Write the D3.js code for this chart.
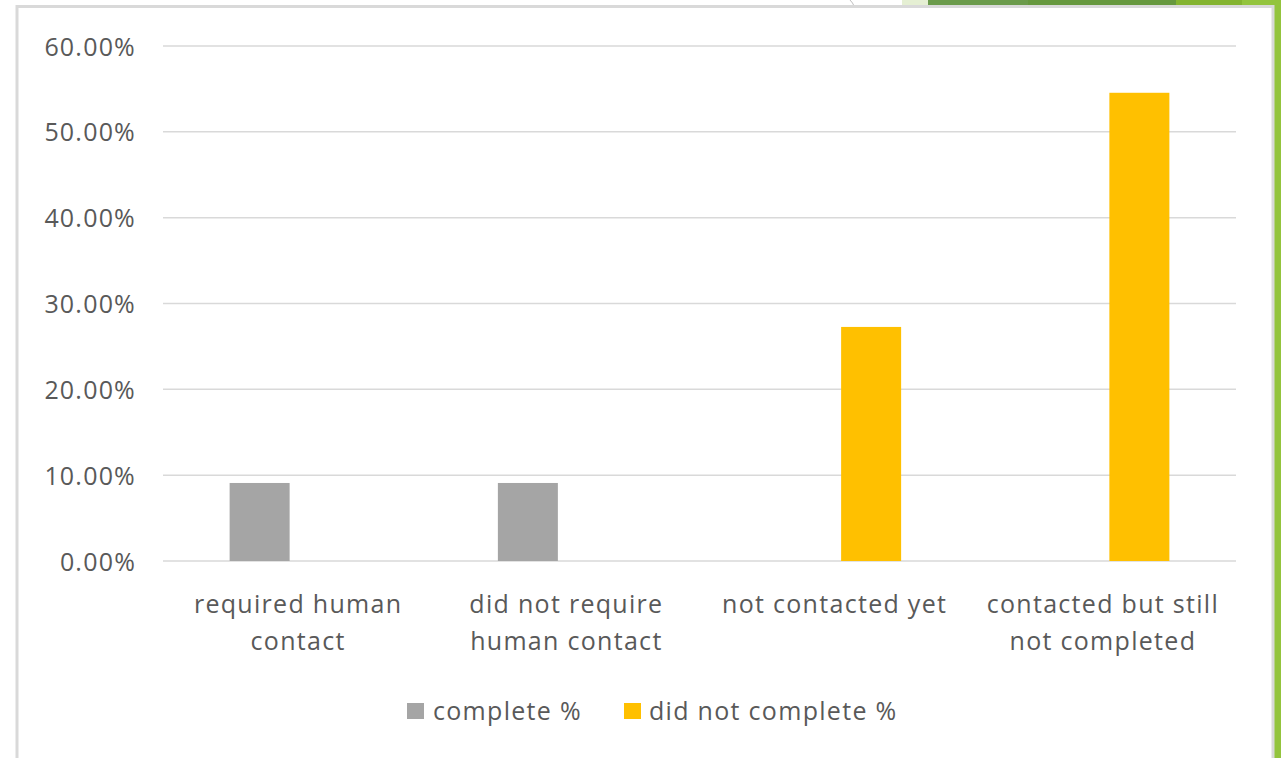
<!DOCTYPE html>
<html>
<head>
<meta charset="utf-8">
<script src="https://cdn.jsdelivr.net/npm/d3@7"></script>
<style>
  body { margin: 0; background: #fff; }
  svg { display: block; font-family: "Open Sans", sans-serif; }
</style>
</head>
<body>
<div id="chart"></div>
<script>
// chart data
var categories = [
  ["required human", "contact"],
  ["did not require", "human contact"],
  ["not contacted yet"],
  ["contacted but still", "not completed"]
];
var seriesNames = ["complete %", "did not complete %"];
var completePct = [0.0909, 0.0909, 0, 0];
var notCompletePct = [0, 0, 0.2727, 0.5455];
var yTicks = [0, 0.1, 0.2, 0.3, 0.4, 0.5, 0.6];
var colors = ["#a5a5a5", "#ffc000"];

(function() {
  var W = 1281, H = 758;
  var svg = d3.select("#chart").append("svg")
      .attr("width", W)
      .attr("height", H);

  // bits of the slide behind the chart, top right
  var strip = [
    [902, 928, "#e5efd3"],
    [928, 1028, "#6b9b4b"],
    [1028, 1176, "#66983e"],
    [1176, 1242, "#84b430"],
    [1242, 1281, "#93c43d"]
  ];
  svg.selectAll("rect.strip").data(strip).enter().append("rect")
      .attr("class", "strip")
      .attr("x", d => d[0]).attr("y", 0)
      .attr("width", d => d[1] - d[0]).attr("height", 8)
      .attr("fill", d => d[2]);
  svg.append("rect")
      .attr("x", 1274).attr("y", 0)
      .attr("width", 7).attr("height", H)
      .attr("fill", "#93c43d");
  svg.append("path")
      .attr("d", "M850,0 Q853,3 854,6")
      .attr("fill", "none")
      .attr("stroke", "#bfbfbf");

  // chart frame
  svg.append("rect")
      .attr("x", 17).attr("y", 6.5)
      .attr("width", 1256).attr("height", H + 10)
      .attr("fill", "#fff")
      .attr("stroke", "#d9d9d9")
      .attr("stroke-width", 3);

  var plot = {left: 163, right: 1236, top: 46, bottom: 561};

  var y = d3.scaleLinear()
      .domain([0, 0.6])
      .range([plot.bottom, plot.top]);

  var x0 = d3.scaleBand()
      .domain(d3.range(categories.length))
      .range([plot.left, plot.right]);

  var x1 = d3.scaleBand()
      .domain(seriesNames)
      .range([-67.5, 67.5])
      .paddingInner(0.2);

  // gridlines
  svg.append("g")
    .selectAll("line").data(yTicks).enter().append("line")
      .attr("x1", plot.left).attr("x2", plot.right)
      .attr("y1", d => y(d)).attr("y2", d => y(d))
      .attr("stroke", "#d9d9d9")
      .attr("stroke-width", 1.5);

  // y axis labels
  var yAxis = svg.append("g")
      .attr("transform", "translate(" + (plot.left - 27) + ",0)")
      .call(d3.axisLeft(y).tickValues(yTicks).tickFormat(d3.format(".2%")).tickSize(0).tickPadding(0));
  yAxis.select(".domain").remove();
  yAxis.selectAll("text")
      .attr("fill", "#595959")
      .attr("dy", "0.36em")
      .style("font-size", "25px")
      .style("letter-spacing", "1.2px")
      .style("font-family", "'Open Sans', sans-serif");

  // bars
  var series = [completePct, notCompletePct];
  series.forEach(function(vals, si) {
    var rows = vals.map((v, i) => ({i: i, v: v})).filter(d => d.v > 0);
    svg.append("g").selectAll("rect").data(rows).enter()
      .append("rect")
        .attr("x", d => x0(d.i) + x0.bandwidth() / 2 + x1(seriesNames[si]))
        .attr("y", d => y(d.v))
        .attr("width", x1.bandwidth())
        .attr("height", d => y(0) - y(d.v))
        .attr("fill", colors[si]);
  });

  // category labels
  var catG = svg.append("g");
  categories.forEach(function(lines, i) {
    var cx = x0(i) + x0.bandwidth() / 2 + 1;
    var t = catG.append("text")
        .attr("x", cx)
        .attr("y", 613)
        .attr("text-anchor", "middle")
        .attr("fill", "#595959")
        .style("letter-spacing", "1.3px")
        .style("font-size", "25px");
    lines.forEach(function(line, j) {
      t.append("tspan")
        .attr("x", cx)
        .attr("dy", j === 0 ? 0 : 37)
        .text(line);
    });
  });

  // legend
  var legend = [
    {name: seriesNames[0], color: colors[0], sx: 407, tx: 433},
    {name: seriesNames[1], color: colors[1], sx: 624, tx: 649}
  ];
  var lg = svg.append("g");
  legend.forEach(function(l) {
    lg.append("rect")
      .attr("x", l.sx).attr("y", 703)
      .attr("width", 17).attr("height", 16)
      .attr("fill", l.color);
    lg.append("text")
      .attr("x", l.tx).attr("y", 720)
      .attr("fill", "#595959")
      .style("letter-spacing", "1.3px")
      .style("font-size", "25px")
      .text(l.name);
  });
})();
</script>
</body>
</html>
